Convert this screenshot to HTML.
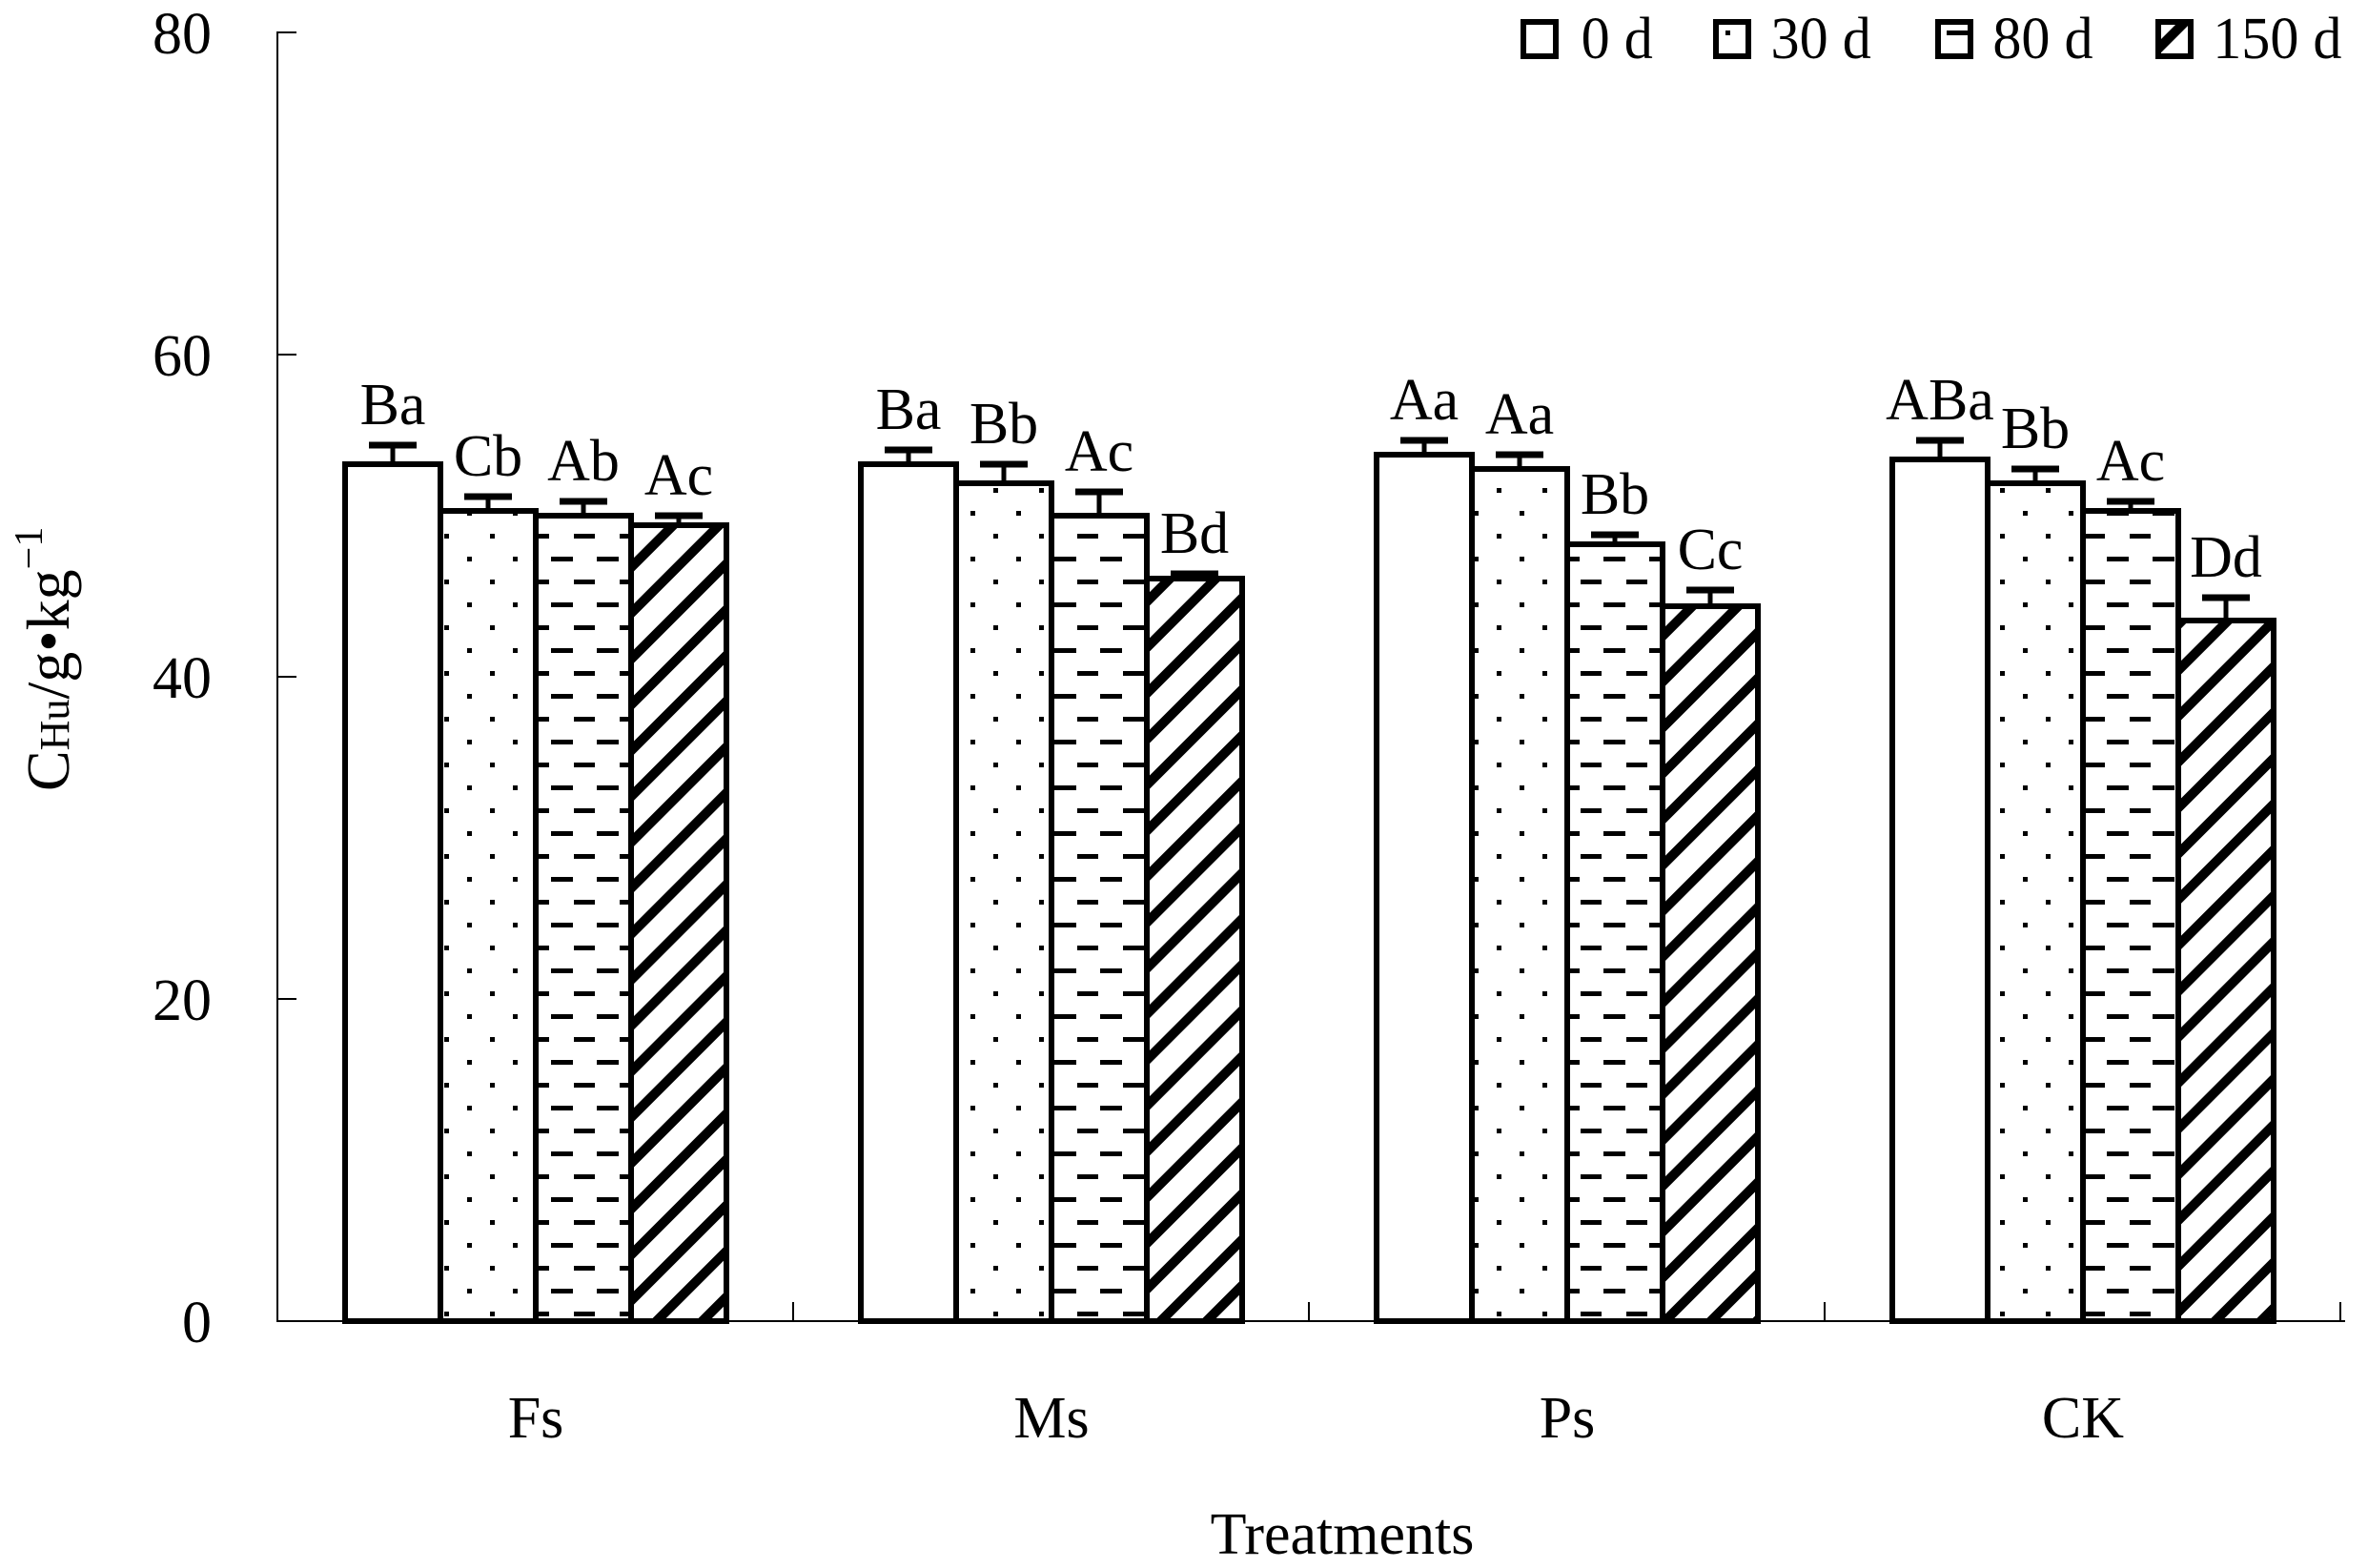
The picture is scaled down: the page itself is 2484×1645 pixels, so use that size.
<!DOCTYPE html>
<html><head><style>html,body{margin:0;padding:0;background:#fff}svg{display:block}</style></head>
<body>
<svg width="2484" height="1645" viewBox="0 0 2484 1645" xmlns="http://www.w3.org/2000/svg" font-family="'Liberation Serif', serif">
<defs>
<pattern id="dots" width="48" height="48" patternUnits="userSpaceOnUse">
<rect x="10" y="8" width="5" height="5" fill="#000"/><rect x="34" y="32" width="5" height="5" fill="#000"/>
</pattern>
<pattern id="dash" width="48" height="48" patternUnits="userSpaceOnUse">
<rect x="2" y="8" width="23" height="5" fill="#000"/><rect x="26" y="32" width="23" height="5" fill="#000"/>
</pattern>
<pattern id="diag" width="34" height="34" patternUnits="userSpaceOnUse" patternTransform="rotate(45)">
<rect x="0" y="0" width="10" height="34" fill="#000"/>
</pattern>
</defs>
<line x1="291" y1="33" x2="291" y2="1387" stroke="#000" stroke-width="2"/>
<line x1="290" y1="1386" x2="2460" y2="1386" stroke="#000" stroke-width="2"/>
<g stroke="#000" stroke-width="2">
<line x1="291" y1="34" x2="311" y2="34"/><line x1="291" y1="372" x2="311" y2="372"/>
<line x1="291" y1="710" x2="311" y2="710"/><line x1="291" y1="1048" x2="311" y2="1048"/>
<line x1="832" y1="1386" x2="832" y2="1366"/><line x1="1373" y1="1386" x2="1373" y2="1366"/>
<line x1="1914" y1="1386" x2="1914" y2="1366"/><line x1="2455" y1="1386" x2="2455" y2="1366"/>
</g>
<g font-size="62" text-anchor="end">
<text x="222" y="56">80</text><text x="222" y="394">60</text><text x="222" y="732">40</text>
<text x="222" y="1070">20</text><text x="222" y="1408">0</text>
</g>
<g font-size="62" text-anchor="middle">
<text x="562" y="1508">Fs</text><text x="1103" y="1508">Ms</text>
<text x="1644" y="1508">Ps</text><text x="2185" y="1508">CK</text>
<text x="1408" y="1630">Treatments</text>
</g>
<text transform="translate(72,830) rotate(-90)" font-size="64">C<tspan font-size="44">Hu</tspan>/g•kg<tspan font-size="42" dy="-28">−1</tspan></text>
<g stroke="#000" stroke-width="6">
<rect x="1598" y="23" width="34" height="36" fill="#fff"/>
<rect x="1800" y="23" width="34" height="36" fill="url(#dots)"/>
<rect x="2033" y="23" width="34" height="36" fill="url(#dash)"/>
<rect x="2264" y="23" width="34" height="36" fill="url(#diag)"/>
</g>
<g font-size="62" transform="scale(0.97,1)">
<text x="1710" y="61">0 d</text><text x="1915" y="61">30 d</text>
<text x="2155" y="61">80 d</text><text x="2393" y="61">150 d</text>
</g>
<g stroke="#000">
<!-- error bars -->
<g stroke-width="5">
<line x1="412" y1="487" x2="412" y2="467"/><line x1="512" y1="536" x2="512" y2="521"/><line x1="612" y1="541" x2="612" y2="526"/><line x1="712" y1="551" x2="712" y2="541"/>
<line x1="953" y1="487" x2="953" y2="472"/><line x1="1053" y1="507" x2="1053" y2="487"/><line x1="1153" y1="541" x2="1153" y2="516"/><line x1="1253" y1="607" x2="1253" y2="602"/>
<line x1="1494" y1="477" x2="1494" y2="462"/><line x1="1594" y1="492" x2="1594" y2="477"/><line x1="1694" y1="571" x2="1694" y2="561"/><line x1="1794" y1="636" x2="1794" y2="619"/>
<line x1="2035" y1="482" x2="2035" y2="462"/><line x1="2135" y1="507" x2="2135" y2="492"/><line x1="2235" y1="536" x2="2235" y2="526"/><line x1="2335" y1="651" x2="2335" y2="627"/>
</g>
<g stroke-width="7">
<line x1="387" y1="467" x2="437" y2="467"/><line x1="487" y1="521" x2="537" y2="521"/><line x1="587" y1="526" x2="637" y2="526"/><line x1="687" y1="541" x2="737" y2="541"/>
<line x1="928" y1="472" x2="978" y2="472"/><line x1="1028" y1="487" x2="1078" y2="487"/><line x1="1128" y1="516" x2="1178" y2="516"/><line x1="1228" y1="602" x2="1278" y2="602"/>
<line x1="1469" y1="462" x2="1519" y2="462"/><line x1="1569" y1="477" x2="1619" y2="477"/><line x1="1669" y1="561" x2="1719" y2="561"/><line x1="1769" y1="619" x2="1819" y2="619"/>
<line x1="2010" y1="462" x2="2060" y2="462"/><line x1="2110" y1="492" x2="2160" y2="492"/><line x1="2210" y1="526" x2="2260" y2="526"/><line x1="2310" y1="627" x2="2360" y2="627"/>
</g>
<g stroke-width="6">
<rect x="362" y="487" width="100" height="899" fill="#fff"/><rect x="462" y="536" width="100" height="850" fill="url(#dots)"/><rect x="562" y="541" width="100" height="845" fill="url(#dash)"/><rect x="662" y="551" width="100" height="835" fill="url(#diag)"/>
<rect x="903" y="487" width="100" height="899" fill="#fff"/><rect x="1003" y="507" width="100" height="879" fill="url(#dots)"/><rect x="1103" y="541" width="100" height="845" fill="url(#dash)"/><rect x="1203" y="607" width="100" height="779" fill="url(#diag)"/>
<rect x="1444" y="477" width="100" height="909" fill="#fff"/><rect x="1544" y="492" width="100" height="894" fill="url(#dots)"/><rect x="1644" y="571" width="100" height="815" fill="url(#dash)"/><rect x="1744" y="636" width="100" height="750" fill="url(#diag)"/>
<rect x="1985" y="482" width="100" height="904" fill="#fff"/><rect x="2085" y="507" width="100" height="879" fill="url(#dots)"/><rect x="2185" y="536" width="100" height="850" fill="url(#dash)"/><rect x="2285" y="651" width="100" height="735" fill="url(#diag)"/>
</g>
</g>
<g font-size="62" text-anchor="middle">
<text x="412" y="445">Ba</text><text x="512" y="499">Cb</text><text x="612" y="504">Ab</text><text x="712" y="519">Ac</text>
<text x="953" y="450">Ba</text><text x="1053" y="465">Bb</text><text x="1153" y="494">Ac</text><text x="1253" y="580">Bd</text>
<text x="1494" y="440">Aa</text><text x="1594" y="455">Aa</text><text x="1694" y="539">Bb</text><text x="1794" y="597">Cc</text>
<text x="2035" y="440">ABa</text><text x="2135" y="470">Bb</text><text x="2235" y="504">Ac</text><text x="2335" y="605">Dd</text>
</g>
</svg>
</body></html>
